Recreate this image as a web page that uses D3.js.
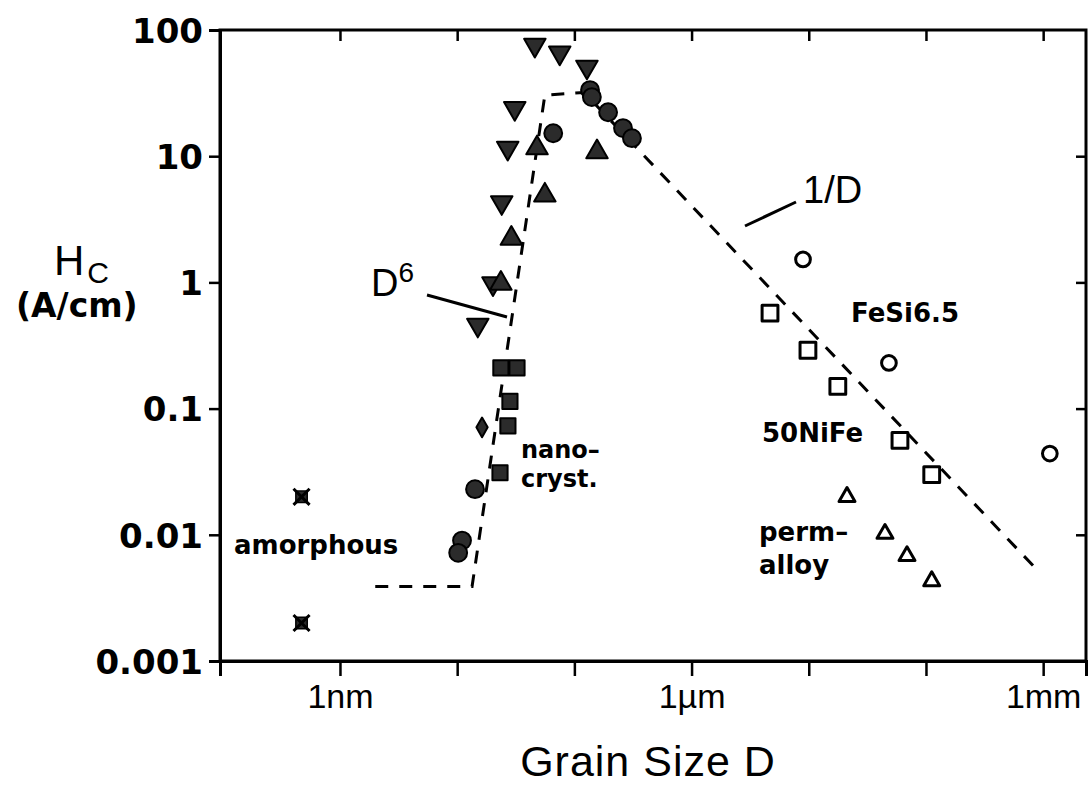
<!DOCTYPE html>
<html>
<head>
<meta charset="utf-8">
<script src="https://cdn.jsdelivr.net/npm/d3@7"></script>
<style>
  html, body { margin: 0; padding: 0; background: #fff; }
  svg { display: block; }
</style>
</head>
<body>
<svg id="chart" width="1088" height="789"></svg>
<script>
// ---------- data (grain size D in nm, coercivity Hc in A/cm) ----------
const xTickValues = [1, 10, 100, 1e3, 1e4, 1e5, 1e6];
const xTickLabels = ["1nm", "", "", "1\u00b5m", "", "", "1mm"];
const yTickValues = [0.001, 0.01, 0.1, 1, 10, 100];
const yTickLabels = ["0.001", "0.01", "0.1", "1", "10", "100"];

const amorphousD  = [0.47, 0.47];
const amorphousHc = [0.02, 0.002];

const downTriD  = [46, 75, 128, 31, 27, 24, 15, 20.2];
const downTriHc = [76, 66, 51, 24, 11.6, 4.3, 0.46, 0.98];

const upTriD  = [48, 156, 56, 29, 23.6];
const upTriHc = [11.6, 10.8, 4.9, 2.23, 0.98];

const filledCircleD  = [136, 141, 194, 260, 310, 66, 14.2, 11, 10.2];
const filledCircleHc = [33.4, 29.4, 22.3, 16.7, 13.9, 15.2, 0.023, 0.009, 0.0072];

const filledDiamondD  = [16.3];
const filledDiamondHc = [0.071];

const filledSquareD  = [23.6, 32.4, 28.2, 27.1, 23.2];
const filledSquareHc = [0.21, 0.21, 0.114, 0.073, 0.031];

const niFeD  = [4670, 9840, 17700, 60000, 112000];      // 50NiFe, open squares
const niFeHc = [0.57, 0.29, 0.15, 0.056, 0.030];

const feSiD  = [8930, 48300, 1.14e6];                   // FeSi6.5, open circles
const feSiHc = [1.52, 0.23, 0.044];

const permD  = [21200, 44700, 68900, 112000];           // permalloy, open triangles
const permHc = [0.020, 0.0102, 0.0068, 0.0043];

const modelD  = [2.0, 13.4, 56, 121, 9.0e5];             // D^6 / 1/D model curve
const modelHc = [0.0039, 0.0039, 30.5, 32, 0.0052];

// ---------- layout ----------
const svg = d3.select("#chart");
const X0 = 220, X1 = 1086, Y0 = 30, Y1 = 661;

const x = d3.scaleLog().domain([0.0947, 2.32e6]).range([X0, X1]);
const y = d3.scaleLog().domain([0.001, 100]).range([Y1, Y0]);

const BOLD = "'DejaVu Sans', sans-serif";
const REG = "'Liberation Sans', Arial, sans-serif";

// frame
svg.append("rect").attr("x", X0).attr("y", Y0).attr("width", X1 - X0).attr("height", Y1 - Y0)
  .attr("fill", "none").attr("stroke", "#000").attr("stroke-width", 3);

// left axis
const gl = svg.append("g").attr("transform", `translate(${X0},0)`)
  .call(d3.axisLeft(y).tickValues(yTickValues).tickSize(11).tickPadding(6)
    .tickFormat((d, i) => yTickLabels[i]));
gl.select(".domain").attr("stroke-width", 3);
gl.selectAll(".tick line").attr("stroke-width", 2.5);
gl.selectAll(".tick text").attr("font-family", BOLD).attr("font-weight", "bold")
  .attr("font-size", 34).attr("fill", "#000").attr("dy", "0.36em");

// right axis ticks (inward)
const gr = svg.append("g").attr("transform", `translate(${X1},0)`)
  .call(d3.axisLeft(y).tickValues(yTickValues.slice(1, -1)).tickSize(10).tickFormat(""));
gr.select(".domain").remove();
gr.selectAll(".tick line").attr("stroke-width", 2.5);

// bottom axis
const gb = svg.append("g").attr("transform", `translate(0,${Y1})`)
  .call(d3.axisBottom(x).tickValues(xTickValues).tickSize(15).tickPadding(8)
    .tickFormat((d, i) => xTickLabels[i]));
gb.select(".domain").attr("stroke-width", 3);
gb.selectAll(".tick line").attr("stroke-width", 2.5);
gb.selectAll(".tick text").attr("font-family", REG).attr("font-size", 34).attr("fill", "#000");

// top axis ticks (inward)
const gt = svg.append("g").attr("transform", `translate(0,${Y0})`)
  .call(d3.axisBottom(x).tickValues(xTickValues).tickSize(11).tickFormat(""));
gt.select(".domain").remove();
gt.selectAll(".tick line").attr("stroke-width", 2.5);

// axis titles
svg.append("text").attr("x", 648).attr("y", 776).attr("text-anchor", "middle")
  .attr("font-family", REG).attr("font-size", 43).attr("letter-spacing", 1).text("Grain Size D");

const hc = svg.append("text").attr("x", 54).attr("y", 275).attr("font-family", REG).attr("font-size", 42);
hc.append("tspan").text("H");
hc.append("tspan").attr("font-size", 30).attr("dy", 8).attr("dx", 3).text("C");
svg.append("text").attr("x", 16).attr("y", 317).attr("font-family", BOLD).attr("font-weight", "bold")
  .attr("font-size", 33).text("(A/cm)");

// model curve
const line = d3.line().x((d, i) => x(modelD[i])).y((d, i) => y(modelHc[i]));
svg.append("path").datum(modelD).attr("d", line).attr("fill", "none")
  .attr("stroke", "#000").attr("stroke-width", 3).attr("stroke-dasharray", "13,11");

// markers
function plot(Ds, Hs, type, size, opts) {
  const sym = d3.symbol().type(type).size(size);
  svg.append("g").selectAll("path").data(Ds).join("path")
    .attr("d", sym)
    .attr("transform", (d, i) => `translate(${x(d)},${y(Hs[i])})` + (opts.rot ? ` rotate(${opts.rot})` : ""))
    .attr("fill", opts.fill).attr("stroke", "#000").attr("stroke-width", opts.sw)
    .attr("stroke-linejoin", "round");
}
const dark = "#2b2b2b";
plot(filledSquareD, filledSquareHc, d3.symbolSquare, 230, {fill: dark, sw: 2});
plot(filledCircleD, filledCircleHc, d3.symbolCircle, 250, {fill: dark, sw: 2});
plot(downTriD, downTriHc, d3.symbolTriangle, 200, {fill: dark, sw: 2, rot: 180});
plot(upTriD, upTriHc, d3.symbolTriangle, 200, {fill: dark, sw: 2});
plot(filledDiamondD, filledDiamondHc, d3.symbolDiamond, 110, {fill: dark, sw: 2});
plot(amorphousD, amorphousHc, d3.symbolSquare, 130, {fill: dark, sw: 1.5});
plot(amorphousD, amorphousHc, d3.symbolX, 170, {fill: "none", sw: 3});
plot(niFeD, niFeHc, d3.symbolSquare, 250, {fill: "none", sw: 3});
plot(feSiD, feSiHc, d3.symbolCircle, 170, {fill: "none", sw: 3});
plot(permD, permHc, d3.symbolTriangle, 110, {fill: "none", sw: 3});

// annotations
function label(t, px, py, size, fam, weight) {
  return svg.append("text").attr("x", px).attr("y", py).attr("font-family", fam)
    .attr("font-weight", weight || "normal").attr("font-size", size).text(t);
}
label("amorphous", 234, 554, 26, BOLD, "bold");
label("nano\u2013", 521, 458, 24, BOLD, "bold");
label("cryst.", 521, 487, 24, BOLD, "bold");
label("FeSi6.5", 851, 322, 26, BOLD, "bold");
label("50NiFe", 762, 442, 26, BOLD, "bold");
label("perm\u2013", 759, 541, 26, BOLD, "bold");
label("alloy", 759, 574, 26, BOLD, "bold");
label("1/D", 803, 203, 38, REG);
const d6 = label("D", 371, 296, 38, REG);
d6.append("tspan").attr("font-size", 28).attr("dy", -14).text("6");

// leader lines
svg.append("line").attr("x1", 745).attr("y1", 226).attr("x2", 796).attr("y2", 202)
  .attr("stroke", "#000").attr("stroke-width", 3);
svg.append("line").attr("x1", 427).attr("y1", 295).attr("x2", 507).attr("y2", 317)
  .attr("stroke", "#000").attr("stroke-width", 3);
</script>
</body>
</html>
